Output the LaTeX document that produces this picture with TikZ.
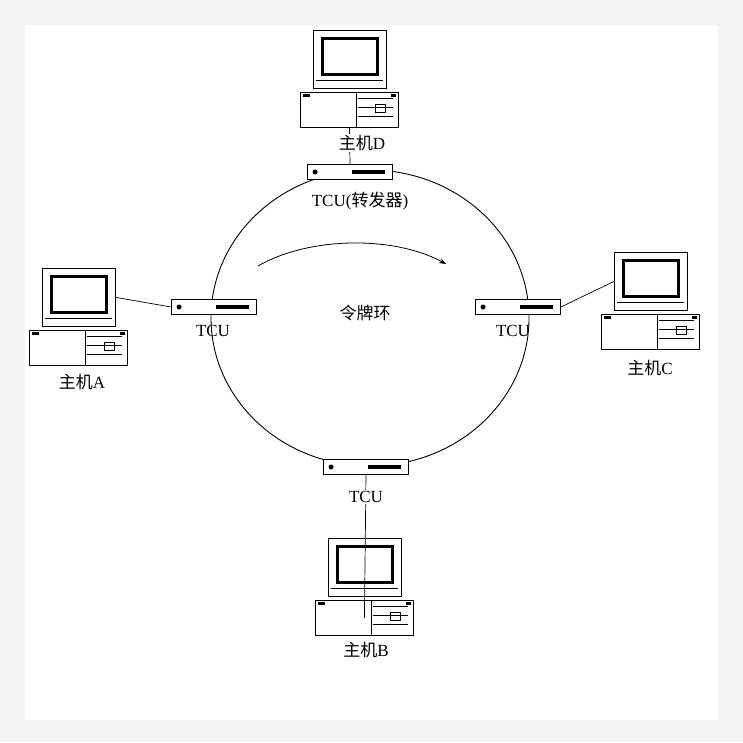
\documentclass[tikz,border=0pt]{standalone}
\usepackage{fontspec}
\setmainfont{Liberation Serif}
\newfontfamily\cjk{Noto Sans CJK SC}
\usetikzlibrary{arrows.meta}
\tikzset{
  lbl/.style={font=\fontsize{17}{19}\selectfont},
  tcubox/.style={draw,line width=0.8pt,minimum width=85pt,minimum height=15pt,inner sep=0pt,fill=white},
  link/.style={line width=0.7pt},
  pics/computer/.style={code={
    \node[draw,line width=0.8pt,minimum width=73pt,minimum height=58pt,inner sep=0pt,anchor=north west,fill=white] (-mon) at (0,0) {};
    \draw[line width=3pt] (9,8) rectangle (64,44);
    \draw[line width=0.6pt] (3,50) -- (70,50);
    \node[draw,line width=0.8pt,minimum width=98pt,minimum height=35pt,inner sep=0pt,anchor=north west,fill=white] (-base) at (-13,62) {};
    \draw[line width=0.6pt] (43,62) -- (43,97);
    \draw[line width=0.6pt] (45,68) -- (80,68) (45,77) -- (80,77) (45,86) -- (80,86);
    \draw[line width=0.6pt] (62,74) rectangle (72,82);
    \fill (-10,64) rectangle (-3,67);
    \fill (78,64) rectangle (83,67);
  }}
}
\begin{document}
\begin{tikzpicture}[x=1pt,y=-1pt]
\useasboundingbox (0,0) rectangle (743,742);
\fill[gray!8] (0,0) rectangle (743,742);
\fill[white] (25,25) rectangle (718,720);
% ring
\draw[line width=0.9pt] (370,318) ellipse [x radius=159pt, y radius=148pt];
% TCUs
\node[tcubox] (tD) at (350,172) {};
\node[tcubox] (tA) at (214,307) {};
\node[tcubox] (tC) at (518,307) {};
\node[tcubox] (tB) at (366,467) {};
\foreach \t in {tD,tA,tC,tB}{
  \fill ([xshift=8pt]\t.west) circle (2.5pt);
  \fill ([xshift=45pt,yshift=-2pt]\t.west) rectangle ([xshift=78pt,yshift=2pt]\t.west);
}
% computers
\pic (D) at (313,30) {computer};
\pic (A) at (42,268) {computer};
\pic (C) at (614,252) {computer};
\pic (B) at (328,538) {computer};
% links
\draw[link] (D-base.south) -- (tD.north);
\draw[link] (A-mon.east) -- (tA.west);
\draw[link] (tC.east) -- (C-mon.west);
\draw[link] (tB.south) -- ([yshift=18pt]B-base.south);
% labels
\node[lbl,fill=white,inner sep=1pt] (lD) at (362,143) {{\cjk 主机}D};
\node[lbl] (lTD) at (360,201) {TCU({\cjk 转发器})};
\node[lbl] (lTA) at (213,331) {TCU};
\node[lbl] (lTC) at (513,331) {TCU};
\node[lbl,fill=white,inner sep=1pt] (lTB) at (366,497) {TCU};
\node[lbl] (lA) at (82,382) {{\cjk 主机}A};
\node[lbl] (lC) at (650,368) {{\cjk 主机}C};
\node[lbl] (lB) at (366,650) {{\cjk 主机}B};
\node[lbl] (ring) at (365,313) {\cjk 令牌环};
% arrow
\coordinate (a1) at (258,266);
\coordinate (a2) at (446,264);
\draw[line width=0.8pt,-{Stealth[length=7pt]}] (a1) .. controls (310,236) and (395,236) .. (a2);
\end{tikzpicture}
\end{document}
